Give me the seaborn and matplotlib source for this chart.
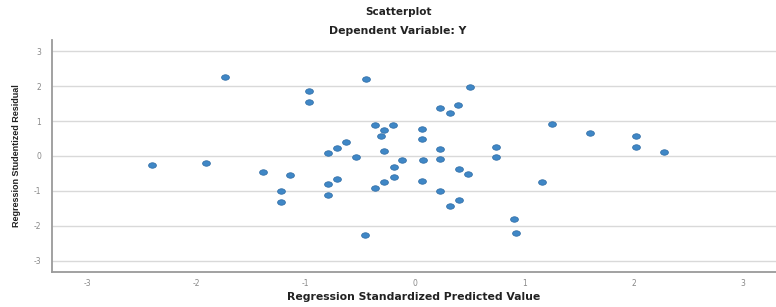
import numpy as np
import pandas as pd
import matplotlib
matplotlib.use("Agg")
import matplotlib.pyplot as plt
from matplotlib.path import Path
from matplotlib.transforms import Affine2D
import seaborn as sns

# valores (SPSS)
pred = [-2.41, -1.91, -1.74, -1.39, -1.14, -1.23, -1.23, -0.97, -0.97,
        -0.80, -0.80, -0.80, -0.71, -0.71, -0.63, -0.54, -0.46, -0.45,
        -0.37, -0.37, -0.31, -0.28, -0.28, -0.28, -0.20, -0.19, -0.19,
        -0.12, 0.06, 0.06, 0.06, 0.07, 0.23, 0.23, 0.23, 0.23, 0.32,
        0.32, 0.39, 0.40, 0.48, 0.40, 0.50, 0.74, 0.74, 0.90, 0.92,
        1.16, 1.25, 1.60, 2.02, 2.02, 2.28]
resid = [-0.27, -0.20, 2.27, -0.45, -0.56, -1.01, -1.32, 1.86, 1.55,
         0.08, -0.81, -1.11, 0.24, -0.65, 0.41, -0.02, -2.26, 2.20,
         0.88, -0.91, 0.57, 0.74, 0.14, -0.76, 0.90, -0.59, -0.31,
         -0.13, 0.78, 0.48, -0.72, -0.13, 1.39, 0.20, -0.09, -1.00, 1.24,
         -1.43, 1.47, -0.38, -0.52, -1.26, 1.99, 0.25, -0.04, -1.82, -2.21,
         -0.75, 0.91, 0.67, 0.56, 0.25, 0.12]

df = pd.DataFrame({"pred": pred, "resid": resid})

sns.set_style("white")
plt.rcParams["font.family"] = ["DejaVu Sans"]
plt.rcParams["axes.unicode_minus"] = False

# marcador eliptico como no SPSS
ellipse = Path.unit_circle().transformed(Affine2D().scale(1.0, 0.7))

fig = plt.figure(figsize=(7.76, 3.07), dpi=100)
ax = fig.add_axes([0.067, 0.114, 0.933, 0.756])

sns.scatterplot(data=df, x="pred", y="resid", ax=ax, color="#3f87c6",
                edgecolor="#2d6aa3", linewidth=0.5, s=32, marker=ellipse,
                zorder=3)

ax.set_xlim(-3.32, 3.3)
ax.set_ylim(-3.33, 3.33)
ax.set_xticks(range(-3, 4))
ax.set_yticks(range(-3, 4))
ax.yaxis.grid(True, color="#d9d9d9", linewidth=1.0)
ax.xaxis.grid(False)
ax.tick_params(axis="both", labelsize=5.5, colors="#888888", length=0)
ax.tick_params(axis="x", pad=5)
ax.tick_params(axis="y", pad=8)
for s in ["top", "right"]:
    ax.spines[s].set_visible(False)
for s in ["left", "bottom"]:
    ax.spines[s].set_color("#9a9a9a")
    ax.spines[s].set_linewidth(1.3)

ax.set_xlabel("Regression Standardized Predicted Value", fontsize=7.8,
              fontweight="bold", color="#222222", labelpad=3)
ax.set_ylabel("Regression Studentized Residual", fontsize=6.5,
              fontweight="bold", color="#222222", labelpad=9,
              family="Liberation Sans")

fig.text(0.513, 0.96, "Scatterplot", ha="center", va="center",
         fontsize=7.5, fontweight="bold", color="#222222")
fig.text(0.513, 0.898, "Dependent Variable: Y", ha="center", va="center",
         fontsize=7.8, fontweight="bold", color="#222222")

plt.savefig("out.png", dpi=100)
plt.close()
